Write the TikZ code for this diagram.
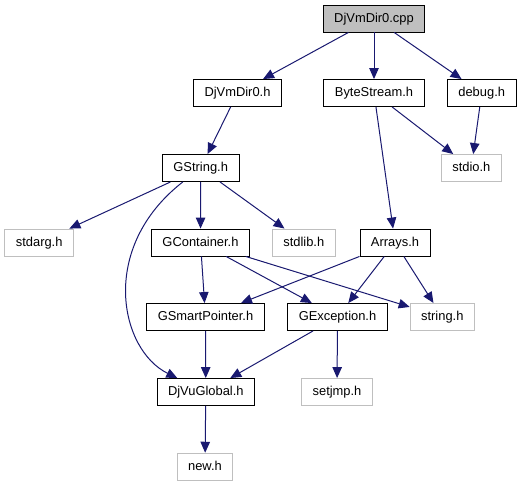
\documentclass[tikz,border=0pt]{standalone}
\usepackage{fontspec}
\setmainfont{Liberation Sans}
\usetikzlibrary{arrows.meta}
\definecolor{edgeblue}{HTML}{191970}
\definecolor{sysgrey}{HTML}{BFBFBF}

\begin{document}
\begin{tikzpicture}[
   x=1pt, y=-1pt,
   hdr/.style={draw=black, line width=0.9pt, inner xsep=11pt, inner ysep=0pt,
               text height=0.72em, text depth=0pt,
               minimum height=27pt, font=\fontsize{12.9}{14}\selectfont, fill=white},
   sys/.style={hdr, draw=sysgrey},
   root/.style={hdr, fill=sysgrey},
   dep/.style={-{Triangle[length=11pt, width=9.5pt]}, edgeblue, line width=1pt}]
  \useasboundingbox (0,0) rectangle (521,485);
  \node[root] (cpp)        at (374,18.5)   {DjVmDir0.cpp};
  \node[hdr]  (dirh)       at (237.5,93)   {DjVmDir0.h};
  \node[hdr]  (bstream)    at (374,93)     {ByteStream.h};
  \node[hdr]  (debug)      at (481.7,93)   {debug.h};
  \node[hdr]  (gstring)    at (200.7,168)  {GString.h};
  \node[sys]  (stdio)      at (471.3,168)  {stdio.h};
  \node[sys]  (stdarg)     at (39.2,242.5) {stdarg.h};
  \node[hdr]  (gcont)      at (200.5,242.5){GContainer.h};
  \node[sys]  (stdlib)     at (303.8,242.5){stdlib.h};
  \node[hdr]  (arrays)     at (395,242.5)  {Arrays.h};
  \node[hdr]  (gsmart)     at (205.5,317)  {GSmartPointer.h};
  \node[hdr]  (gexc)       at (337.5,317)  {GException.h};
  \node[sys]  (stringh)    at (442.3,317)  {string.h};
  \node[hdr]  (djvuglobal) at (205.8,392)  {DjVuGlobal.h};
  \node[sys]  (setjmp)     at (337,392)    {setjmp.h};
  \node[sys]  (newh)       at (205,466.7)  {new.h};
  \foreach \x/\y in {cpp/dirh,cpp/bstream,cpp/debug,dirh/gstring,
                     bstream/stdio,bstream/arrays,debug/stdio,
                     gstring/stdarg,gstring/gcont,gstring/stdlib,
                     gcont/gsmart,gcont/gexc,gcont/stringh,
                     arrays/gsmart,arrays/gexc,arrays/stringh,
                     gsmart/djvuglobal,gexc/djvuglobal,gexc/setjmp,
                     djvuglobal/newh} {\draw[dep] (\x) -- (\y);}
  \draw[dep] (gstring) .. controls (98,248) and (120,350) .. (djvuglobal);
\end{tikzpicture}
\end{document}
